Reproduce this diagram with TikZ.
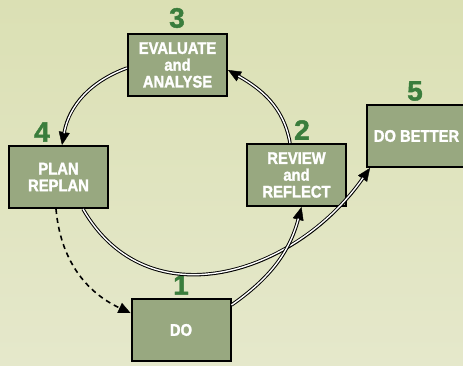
\documentclass[tikz,border=0pt]{standalone}
\usepackage{fontspec}
\setmainfont{Liberation Sans}
\newfontfamily\boxfont{Liberation Sans Bold}[FakeStretch=0.88,FakeBold=1.6]
\newfontfamily\numfont{Liberation Sans Bold}[FakeBold=1.4]
\usetikzlibrary{arrows.meta}
\definecolor{bgtop}{RGB}{219,224,180}
\definecolor{bgbottom}{RGB}{229,232,203}
\definecolor{boxfill}{RGB}{152,168,128}
\definecolor{stepgreen}{RGB}{58,125,60}

\begin{document}
\begin{tikzpicture}[x=1pt,y=1pt]

    \tikzset{
      box/.style={
        draw=black,
        line width=2pt,
        fill=boxfill,
        minimum width=99pt,
        minimum height=62pt,
        inner sep=0pt,
        align=center,
        text=white,
        font=\boxfont\fontsize{16.8}{16.8}\selectfont,
      },
      num/.style={
        text=stepgreen,
        inner sep=0pt,
        font=\numfont\fontsize{28}{28}\selectfont,
      },
      link/.style={
        draw=black,
        line width=3.4pt,
        -{Triangle[length=13pt,width=11pt,line width=0.4pt]},
        postaction={draw=white, line width=1.4pt, -, shorten >=12pt},
      },
      back/.style={
        draw=black,
        line width=1.6pt,
        dash pattern=on 5pt off 4pt,
        -{Triangle[length=12pt,width=11pt,line width=0.4pt]},
      },
    }
    \useasboundingbox (0,0) rectangle (463,365);
    \shade[top color=bgtop, bottom color=bgbottom] (0,0) rectangle (463,365);
    \clip (0,0) rectangle (463,365);

    % the five steps
    \node[box] (evaluate) at (177.5,300) {EVALUATE\\and\\ANALYSE};
    \node[box] (plan) at (58.5,188) {PLAN\\REPLAN};
    \node[box] (review) at (296.5,190) {REVIEW\\and\\REFLECT};
    \node[box] (better) at (416.5,229) {DO BETTER};
    \node[box] (do) at (181,35) {DO};

    \node[num] (n1) at (181,80) {1};
    \node[num] (n2) at (302,235) {2};
    \node[num] (n3) at (177,347) {3};
    \node[num] (n4) at (42,233) {4};
    \node[num] (n5) at (415,274) {5};

    % the cycle
    \draw[link] ([yshift=-3pt]evaluate.west) to[out=200,in=80] ([xshift=3.5pt]plan.north);
    \draw[link] ([xshift=24.5pt]plan.south) to[out=-60,in=-125,looseness=1.15] ([xshift=4pt]better.south west);
    \draw[link] ([yshift=25pt]do.east) to[out=35,in=-105] ([xshift=5pt]review.south);
    \draw[link] ([xshift=-6.5pt]review.north) to[out=100,in=-30] ([yshift=-5pt]evaluate.east);
    \draw[back] ([xshift=-2.5pt]plan.south) to[out=-85,in=155] ([yshift=17pt]do.west);

\end{tikzpicture}
\end{document}
